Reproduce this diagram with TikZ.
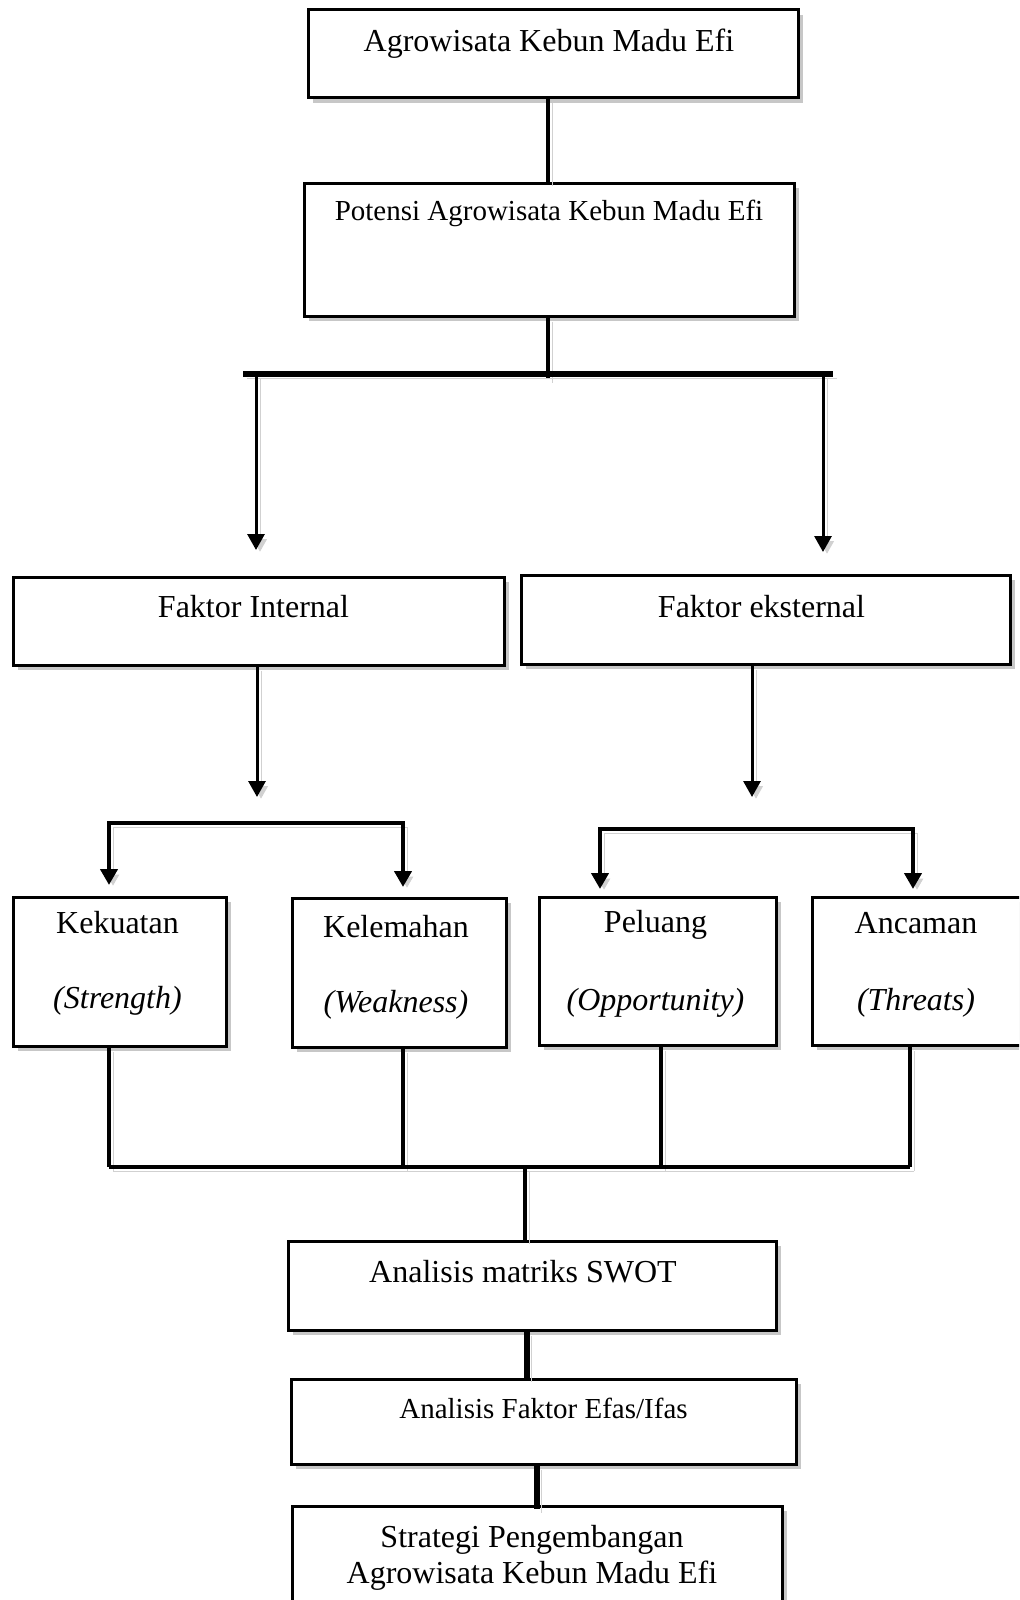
\documentclass[tikz,border=0pt]{standalone}
\usepackage{fontspec}
\setmainfont{Liberation Serif}
\usetikzlibrary{shadows,arrows.meta}
\begin{document}
\begin{tikzpicture}[x=0.5pt,y=-0.5pt,
  box/.style={draw, line width=1.5pt, fill=white, rectangle, inner xsep=0pt, inner ysep=0pt,
     drop shadow={shadow xshift=2.5pt, shadow yshift=-2.5pt, fill=black, opacity=0.22},
     font=\fontsize{16}{19}\selectfont, anchor=base},
  small/.style={font=\fontsize{14.5}{17}\selectfont},
  conn/.style={line width=2pt, preaction={draw=black!18, transform canvas={shift={(2pt,-2pt)}}}},
  tip/.tip={Triangle[width=8.5pt,length=8pt]},
  arr/.style={conn, -tip},
  barr/.style={conn, tip-tip}
]
\useasboundingbox (0,0) rectangle (1019,1600);
\fill[white] (0,0) rectangle (1019,1600);
\clip (0,0) rectangle (1019,1600);

% boxes
\node[box, minimum width=245pt, text height=21pt, text depth=23pt] (b1) at (553,52) {\hspace*{-4pt}Agrowisata Kebun Madu Efi};
\node[box, small, minimum width=245pt, text height=18.5pt, text depth=48pt] (b2) at (549,220) {Potensi Agrowisata Kebun Madu Efi};
\node[box, minimum width=245.5pt, text height=20pt, text depth=24pt] (fi) at (258.5,617) {\hspace*{-5pt}Faktor Internal};
\node[box, minimum width=244.5pt, text height=21pt, text depth=23.5pt] (fe) at (765.5,617) {\hspace*{-4pt}Faktor eksternal};
\node[box, minimum width=106.5pt, text height=18pt, text depth=56.5pt] (kk) at (119.5,933) {\hspace*{-2pt}\begin{tabular}[t]{@{}c@{}}Kekuatan\\[18.5pt]\textit{(Strength)}\end{tabular}};
\node[box, minimum width=107pt, text height=19.5pt, text depth=55pt] (kl) at (399,937) {\hspace*{-3pt}\begin{tabular}[t]{@{}c@{}}Kelemahan\\[18.5pt]\textit{(Weakness)}\end{tabular}};
\node[box, minimum width=118.5pt, text height=17.5pt, text depth=56.5pt] (pl) at (657.5,932) {\hspace*{-2pt}\begin{tabular}[t]{@{}c@{}}Peluang\\[20pt]\textit{(Opportunity)}\end{tabular}};
\node[box, minimum width=109pt, text height=18pt, text depth=56pt] (an) at (921,933) {\hspace*{-5pt}\begin{tabular}[t]{@{}c@{}}Ancaman\\[19.5pt]\textit{(Threats)}\end{tabular}};
\node[box, minimum width=244pt, text height=20.5pt, text depth=24pt] (sw) at (532,1282) {\hspace*{-9pt}Analisis matriks SWOT};
\node[box, small, minimum width=252.5pt, text height=19.5pt, text depth=23pt] (ef) at (543.5,1418) {Analisis Faktor Efas/Ifas};
\node[box, minimum width=245pt, text height=20.5pt, text depth=36.5pt] (st) at (537,1547) {\hspace*{-5pt}\begin{tabular}[t]{@{}c@{}}Strategi Pengembangan\\[-1pt]Agrowisata Kebun Madu Efi\end{tabular}};

% top connectors
\coordinate (j0) at (548,379);
\coordinate (barL) at (243,374);
\coordinate (barR) at (833,374);
\coordinate (aFI) at (256,550);
\coordinate (aFE) at (823,552);
\draw[conn] (b1.south -| j0) -- (b2.north -| j0);
\draw[conn] (b2.south -| j0) -- (j0);
\draw[conn, line width=3pt] (barL) -- (barR);
\draw[arr, line width=1.5pt] (barL -| aFI) -- (aFI);
\draw[arr, line width=1.5pt] (barR -| aFE) -- (aFE);

% faktor arrows
\coordinate (fiT) at (257,797);
\coordinate (feT) at (752,797);
\draw[arr, line width=1.5pt] (fi.south -| fiT) -- (fiT);
\draw[arr, line width=1.5pt] (fe.south -| feT) -- (feT);

% brackets
\coordinate (kkT) at (109,885);
\coordinate (klT) at (403,887);
\coordinate (plT) at (600,889);
\coordinate (anT) at (913,889);
\draw[barr] (kkT) -- ++(0,-62) -| (klT);
\draw[barr] (plT) -- ++(0,-60) -| (anT);

% bottom collector
\coordinate (kkB) at (109,1167);
\coordinate (klB) at (403,1167);
\coordinate (plB) at (661,1167);
\coordinate (anB) at (910,1167);
\coordinate (jB) at (525,1167);
\draw[conn] (kk.south -| kkB) -- (kkB);
\draw[conn] (kl.south -| klB) -- (klB);
\draw[conn] (pl.south -| plB) -- (plB);
\draw[conn] (an.south -| anB) -- (anB);
\draw[conn] (kkB) -- (anB);
\draw[conn] (jB) -- (sw.north -| jB);

% lower chain
\coordinate (j1) at (527,1400);
\coordinate (j2) at (537,1509);
\draw[conn, line width=3pt] (sw.south -| j1) -- (ef.north -| j1);
\draw[conn, line width=3pt] (ef.south -| j2) -- (j2);
\end{tikzpicture}
\end{document}
